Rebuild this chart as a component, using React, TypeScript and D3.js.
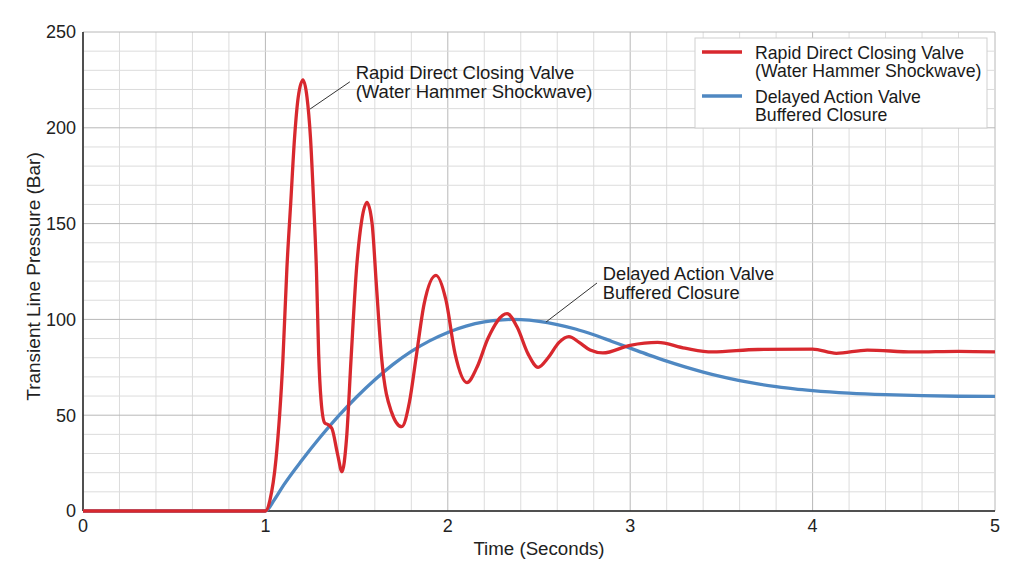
import * as d3 from "d3";
import React, { Component } from "react";

// time (s) and pressure (bar) samples for the two valve responses
const rapidTime = [
  0, 1.0, 1.025, 1.058, 1.096, 1.118, 1.139, 1.16, 1.18, 1.206, 1.228, 1.247,
  1.265, 1.28, 1.292, 1.305, 1.325, 1.345, 1.365, 1.395, 1.42, 1.445, 1.47,
  1.5, 1.527, 1.557, 1.585, 1.607, 1.637, 1.69, 1.747, 1.79, 1.826, 1.87,
  1.935, 1.99, 2.04, 2.105, 2.16, 2.22, 2.325, 2.38, 2.44, 2.495, 2.55, 2.61,
  2.664, 2.72, 2.78, 2.85, 3.0, 3.15, 3.3, 3.45, 3.7, 4.0, 4.13, 4.3, 4.55,
  4.8, 5.0,
];
const rapidPressure = [
  0, 0, 5.7, 27, 79, 127, 161, 195, 216, 225, 216, 195, 160, 125, 82, 58, 46,
  45, 43, 30, 20.5, 38, 80, 127, 151, 161, 150, 120, 80, 52, 44, 57, 80, 108,
  123, 110, 82, 67, 75, 90, 103, 96, 82, 75, 80, 88, 91, 88, 84, 82.5, 86.5,
  88, 85, 83, 84.3, 84.5, 82.3, 84, 83, 83.3, 83,
];

const delayedTime = [
  0, 1.0, 1.05, 1.1, 1.2, 1.3, 1.4, 1.5, 1.6, 1.7, 1.8, 1.9, 2.0, 2.1, 2.2,
  2.3, 2.35, 2.4, 2.5, 2.6, 2.7, 2.8, 2.9, 3.0, 3.1, 3.2, 3.3, 3.4, 3.5, 3.6,
  3.7, 3.8, 3.9, 4.0, 4.2, 4.4, 4.6, 4.8, 5.0,
];
const delayedPressure = [
  0, 0, 6, 13.5, 26.5, 38.5, 49.5, 59.5, 68.5, 76.5, 83.3, 88.8, 93.2, 96.5,
  98.7, 99.8, 100, 99.9, 99, 97.3, 95, 92, 88.5, 85, 81.5, 78.2, 75.2, 72.5,
  70.1, 68, 66.3, 64.9, 63.7, 62.8, 61.5, 60.7, 60.2, 59.9, 59.8,
];

const xTicks = [0, 1, 2, 3, 4, 5];
const yTicks = [0, 50, 100, 150, 200, 250];

const seriesNames = [
  ["Rapid Direct Closing Valve", "(Water Hammer Shockwave)"],
  ["Delayed Action Valve", "Buffered Closure"],
];

const RED = "#d8282e";
const BLUE = "#4f88c2";
const FONT = "'Liberation Sans', Arial, sans-serif";

export default class App extends Component {
  chartRef: any;

  componentDidMount(): void {
    const W = 1024;
    const H = 572;
    const margin = { top: 32, right: 29, bottom: 61, left: 83 };
    const width = W - margin.left - margin.right;
    const height = H - margin.top - margin.bottom;

    const svg = d3
      .select(this.chartRef)
      .attr("width", W)
      .attr("height", H)
      .style("font-family", FONT);

    svg.append("rect").attr("width", W).attr("height", H).attr("fill", "#fff");

    const x = d3.scaleLinear().domain([0, 5]).range([0, width]);
    const y = d3.scaleLinear().domain([0, 250]).range([height, 0]);

    const main = svg
      .append("g")
      .attr("transform", `translate(${margin.left},${margin.top})`);

    // grid: minor every 0.2 s / 10 bar, major on the tick values
    const vLines = d3.range(0, 26).map((i) => i * 0.2);
    const hLines = d3.range(0, 26).map((i) => i * 10);

    main
      .append("g")
      .selectAll("line")
      .data(vLines)
      .join("line")
      .attr("x1", (d) => x(d))
      .attr("x2", (d) => x(d))
      .attr("y1", 0)
      .attr("y2", height)
      .attr("stroke", (_d, i) => (i % 5 === 0 ? "#b8b8b8" : "#dcdcdc"))
      .attr("stroke-width", 1);

    main
      .append("g")
      .selectAll("line")
      .data(hLines)
      .join("line")
      .attr("x1", 0)
      .attr("x2", width)
      .attr("y1", (d) => y(d))
      .attr("y2", (d) => y(d))
      .attr("stroke", (_d, i) => (i % 5 === 0 ? "#b8b8b8" : "#dcdcdc"))
      .attr("stroke-width", 1);

    // axes lines
    main
      .append("line")
      .attr("x1", 0)
      .attr("x2", 0)
      .attr("y1", 0)
      .attr("y2", height)
      .attr("stroke", "#222")
      .attr("stroke-width", 1.5);
    main
      .append("line")
      .attr("x1", 0)
      .attr("x2", width)
      .attr("y1", height)
      .attr("y2", height)
      .attr("stroke", "#222")
      .attr("stroke-width", 1.5);

    main
      .append("g")
      .selectAll("text")
      .data(yTicks)
      .join("text")
      .attr("x", -7)
      .attr("y", (d) => y(d))
      .attr("dy", "0.35em")
      .attr("text-anchor", "end")
      .attr("font-size", 18)
      .attr("fill", "#222")
      .text((d) => d);

    main
      .append("g")
      .selectAll("text")
      .data(xTicks)
      .join("text")
      .attr("x", (d) => x(d))
      .attr("y", height + 21)
      .attr("text-anchor", "middle")
      .attr("font-size", 18)
      .attr("fill", "#222")
      .text((d) => d);

    svg
      .append("text")
      .attr("x", margin.left + width / 2)
      .attr("y", 555)
      .attr("text-anchor", "middle")
      .attr("font-size", 18.7)
      .attr("fill", "#222")
      .text("Time (Seconds)");

    svg
      .append("text")
      .attr("transform", `translate(40,${margin.top + height / 2 + 5}) rotate(-90)`)
      .attr("text-anchor", "middle")
      .attr("font-size", 19)
      .attr("fill", "#222")
      .text("Transient Line Pressure (Bar)");

    const line = d3
      .line<[number, number]>()
      .curve(d3.curveMonotoneX)
      .x((d) => x(d[0]))
      .y((d) => y(d[1]));

    const delayed = delayedTime.map((t, i) => [t, delayedPressure[i]] as [number, number]);
    const rapid = rapidTime.map((t, i) => [t, rapidPressure[i]] as [number, number]);

    main
      .append("path")
      .datum(delayed)
      .attr("d", line)
      .attr("fill", "none")
      .attr("stroke", BLUE)
      .attr("stroke-width", 3.3);

    main
      .append("path")
      .datum(rapid)
      .attr("d", line)
      .attr("fill", "none")
      .attr("stroke", RED)
      .attr("stroke-width", 3.3);

    // callouts
    const callouts = [
      { from: [1.245, 209.8], to: [1.463, 224], tx: 1.495, ty: 225.5, size: 18.5, gap: 19.5, lines: seriesNames[0] },
      { from: [2.538, 98.6], to: [2.818, 119], tx: 2.85, ty: 120.5, size: 18.3, gap: 19, lines: seriesNames[1] },
    ];
    callouts.forEach((c) => {
      main
        .append("line")
        .attr("x1", x(c.from[0]))
        .attr("y1", y(c.from[1]))
        .attr("x2", x(c.to[0]))
        .attr("y2", y(c.to[1]))
        .attr("stroke", "#333")
        .attr("stroke-width", 1);
      const t = main
        .append("text")
        .attr("x", x(c.tx))
        .attr("y", y(c.ty))
        .attr("font-size", c.size)
        .attr("fill", "#1a1a1a");
      c.lines.forEach((l, i) => {
        t.append("tspan")
          .attr("x", x(c.tx))
          .attr("dy", i === 0 ? 0 : c.gap)
          .text(l);
      });
    });

    // legend
    const legend = svg.append("g").attr("transform", "translate(695,38)");
    legend
      .append("rect")
      .attr("width", 292)
      .attr("height", 90)
      .attr("fill", "#fff")
      .attr("stroke", "#cfcfcf");
    [RED, BLUE].forEach((c, i) => {
      const gy = 14 + i * 44;
      legend
        .append("line")
        .attr("x1", 7)
        .attr("x2", 47)
        .attr("y1", gy)
        .attr("y2", gy)
        .attr("stroke", c)
        .attr("stroke-width", 3.5);
      const t = legend
        .append("text")
        .attr("x", 60)
        .attr("y", gy + 7)
        .attr("font-size", 17.7)
        .attr("fill", "#1a1a1a");
      seriesNames[i].forEach((l, j) => {
        t.append("tspan")
          .attr("x", 60)
          .attr("dy", j === 0 ? 0 : 18)
          .text(l);
      });
    });
  }

  render() {
    return (
      <div style={{ position: "absolute", left: 0, top: 0 }}>
        <svg ref={(r) => (this.chartRef = r)} style={{ display: "block" }}></svg>
      </div>
    );
  }
}
